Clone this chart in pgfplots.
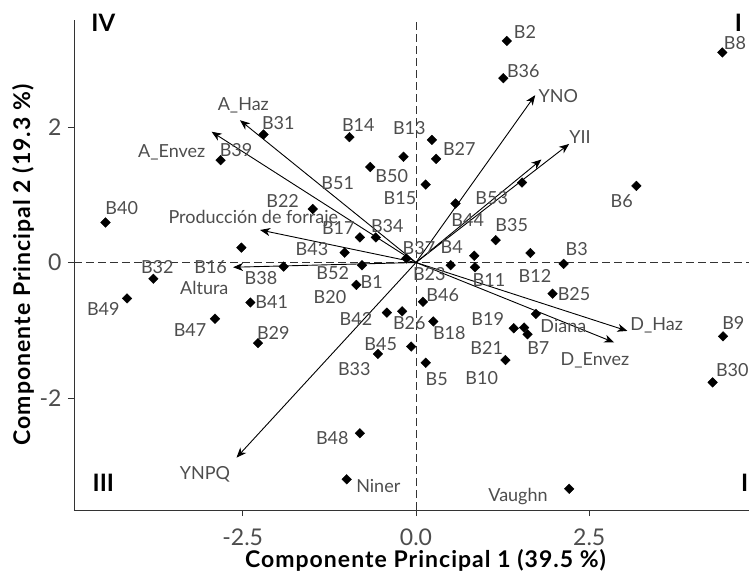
\documentclass[border=0pt]{standalone}
\usepackage{fontspec}
\setmainfont{Lato}
\newfontfamily\titulo[LetterSpace=4.5]{Lato}
\usepackage{pgfplots}
\usepackage{pgfplotstable}
\pgfplotsset{compat=1.18}
\usetikzlibrary{arrows.meta}
\definecolor{ejes}{RGB}{51,51,51}
\definecolor{textogris}{RGB}{77,77,77}

% individuos (CP1, CP2)
\pgfplotstableread{
x y
-2.20 1.89
-2.82 1.51
1.31 3.27
1.26 2.72
4.42 3.10
-0.96 1.85
0.23 1.81
-0.18 1.56
0.29 1.53
-0.66 1.41
0.14 1.15
-1.49 0.79
3.18 1.13
1.53 1.18
0.57 0.87
1.15 0.33
-0.81 0.37
-0.58 0.37
-1.03 0.145
-0.14 0.06
0.84 0.10
0.50 -0.04
0.85 -0.07
1.65 0.14
2.13 -0.02
-0.78 -0.04
-0.86 -0.33
0.10 -0.58
-0.42 -0.74
-0.20 -0.72
0.25 -0.87
1.41 -0.97
1.56 -0.96
1.61 -1.06
1.73 -0.76
-0.55 -1.35
-0.07 -1.24
1.29 -1.44
0.14 -1.48
1.97 -0.46
4.43 -1.09
4.28 -1.77
-4.48 0.59
-2.52 0.22
-3.79 -0.24
-1.91 -0.06
-4.17 -0.53
-2.39 -0.59
-2.90 -0.83
-2.28 -1.19
-0.81 -2.52
-1.00 -3.20
2.21 -3.34
}\puntos

% cargas de las variables
\pgfplotstableread{
u v
-2.54 2.10
-2.95 1.93
-2.25 0.48
-2.64 -0.07
-2.59 -2.88
3.05 -1.01
2.86 -1.18
1.72 2.47
2.21 1.75
1.81 1.52
}\flechas

\pgfplotstableread[col sep=comma]{
x,y,name
1.573,3.398,B2
1.548,2.827,B36
4.603,3.235,B8
-0.833,2.030,B14
-0.097,1.981,B13
0.625,1.671,B27
-0.351,1.277,B50
-1.130,1.178,B51
-0.231,0.948,B15
-1.987,2.063,B31
-2.597,1.661,B39
-1.924,0.912,B22
-4.247,0.800,B40
1.092,0.948,B53
0.746,0.627,B44
1.381,0.554,B35
2.968,0.912,B6
-1.121,0.505,B17
-0.414,0.543,B34
-1.501,0.199,B43
0.043,0.210,B37
0.515,0.233,B4
2.319,0.195,B3
-3.733,-0.071,B32
-2.963,-0.071,B16
-2.237,-0.233,B38
-1.202,-0.151,B52
0.192,-0.174,B23
1.053,-0.258,B11
1.717,-0.195,B12
-0.639,-0.283,B1
-1.241,-0.505,B20
0.385,-0.480,B46
2.280,-0.469,B25
-4.512,-0.691,B49
-2.082,-0.587,B41
-0.866,-0.838,B42
-0.097,-0.889,B26
1.035,-0.838,B19
2.126,-0.933,Diana
-3.261,-0.996,B47
0.481,-1.036,B18
-2.059,-1.045,B29
-0.509,-1.207,B45
1.765,-1.266,B7
1.020,-1.266,B21
-0.890,-1.576,B33
0.299,-1.720,B5
0.948,-1.709,B10
4.579,-0.889,B9
4.564,-1.587,B30
-1.208,-2.586,B48
-0.544,-3.294,Niner
1.472,-3.461,Vaughn
-2.492,2.320,A\_Haz
-3.525,1.621,A\_Envez
-2.348,0.642,Producción de forraje
-3.055,-0.381,Altura
-3.045,-3.126,YNPQ
3.473,-0.933,D\_Haz
2.583,-1.439,D\_Envez
2.053,2.462,YNO
2.367,1.848,YII
}\etiquetas

\pgfplotstableread[col sep=comma]{
x,y,name
-4.512,3.531,IV
4.651,3.540,I
-4.512,-3.259,III
}\cuadrantes

\begin{document}
\begin{tikzpicture}
\begin{axis}[
    name=ax,
    scale only axis,
    width=675pt, height=490pt,
    xmin=-4.935, xmax=4.805,
    ymin=-3.653, ymax=3.579,
    axis x line=bottom, axis y line=left,
    axis line style={-, draw=ejes, line width=0.9pt},
    tick align=outside,
    major tick length=6pt,
    tick style={draw=ejes, line width=0.9pt},
    xtick={-2.5,0,2.5}, xticklabels={-2.5,0.0,2.5},
    ytick={-2,0,2}, yticklabels={-2,0,2},
    ticklabel style={font=\fontsize{23}{23}\selectfont, text=textogris},
    xticklabel style={yshift=-9pt},
    yticklabel style={xshift=-3pt},
    xlabel={\titulo\bfseries Componente Principal 1 (39.5 \%)},
    ylabel={\titulo\bfseries Componente Principal 2 (19.3 \%)},
    every axis x label/.style={at={(axis description cs:0.5,0)}, anchor=center,
        yshift=-50pt, xshift=14pt, font=\fontsize{23}{23}\selectfont},
    every axis y label/.style={at={(axis description cs:0,0.5)}, xshift=-51pt,
        rotate=90, anchor=center, font=\fontsize{23}{23}\selectfont},
    clip=false,
]
\addplot[ejes, line width=0.8pt, dash pattern=on 8pt off 4pt] coordinates {(-4.935,0) (4.805,0)};
\addplot[ejes, line width=0.8pt, dash pattern=on 8pt off 4pt] coordinates {(0,-3.653) (0,3.579)};
\addplot[black, line width=0.9pt, -{Stealth[length=10pt, width=8pt, inset=3pt]},
    quiver={u=\thisrow{u}, v=\thisrow{v}}] table[x expr=0, y expr=0] \flechas;
\addplot[only marks, mark=square*, mark size=3.4pt, mark options={rotate=45, fill=black, draw=black}]
    table[x=x, y=y] \puntos;
\addplot[only marks, mark=*, mark size=0pt, mark options={draw=none, fill=none},
    nodes near coords, point meta=explicit symbolic,
    nodes near coords style={anchor=center, inner sep=0pt, text=textogris, font=\fontsize{18}{18}\selectfont}]
    table[x=x, y=y, meta=name] \etiquetas;
\addplot[only marks, mark=*, mark size=0pt, mark options={draw=none, fill=none},
    nodes near coords, point meta=explicit symbolic,
    nodes near coords style={anchor=center, inner sep=0pt, text=black, font=\bfseries\fontsize{24}{24}\selectfont}]
    table[x=x, y=y, meta=name] \cuadrantes;
\addplot[only marks, mark=*, mark size=0pt, mark options={draw=none, fill=none},
    nodes near coords, point meta=explicit symbolic,
    nodes near coords style={anchor=west, inner sep=0pt, text=black, font=\bfseries\fontsize{24}{24}\selectfont}]
    coordinates {(4.69,-3.259) [II]};
\end{axis}
\pgfresetboundingbox
\useasboundingbox (-74pt,-64pt) rectangle (675pt,510pt);
\end{tikzpicture}
\end{document}
